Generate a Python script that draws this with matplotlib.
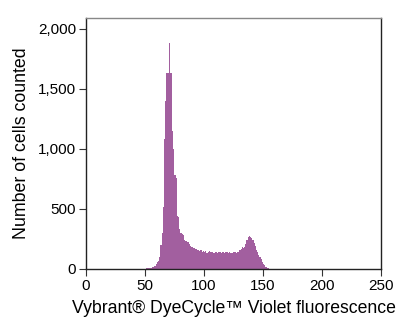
import matplotlib
matplotlib.use("Agg")
import matplotlib.pyplot as plt
import numpy as np

plt.rcParams['font.family'] = ['Liberation Sans', 'DejaVu Sans']

# Fluorescence channel (left bin edges, width 1) and cell counts per channel
bin_start = list(range(50, 156))
counts = [
    3, 5, 6, 8, 10, 12, 15, 20, 28, 40,            # 50-59
    55, 65, 100, 200, 300, 520, 1080, 1400, 1630, 1630,  # 60-69
    1880, 1630, 1630, 1150, 1000, 780, 760, 440, 430, 330,  # 70-79
    300, 290, 285, 240, 235, 230, 225, 210, 195, 185,  # 80-89
    180, 175, 168, 165, 160, 158, 150, 155, 145, 150,  # 90-99
    140, 148, 135, 142, 150, 140, 138, 145, 132, 140,  # 100-109
    145, 135, 140, 142, 130, 140, 145, 135, 138, 140,  # 110-119
    132, 140, 135, 130, 135, 140, 138, 135, 140, 145,  # 120-129
    155, 170, 180, 175, 185, 210, 240, 265, 275, 270,  # 130-139
    255, 240, 215, 190, 160, 140, 120, 100, 80, 60,    # 140-149
    45, 30, 20, 12, 6, 3,                              # 150-155
]

x_ticks = [0, 50, 100, 150, 200, 250]
y_ticks = [0, 500, 1000, 1500, 2000]
y_tick_labels = ['0', '500', '1,000', '1,500', '2,000']

fig = plt.figure(figsize=(4.03, 3.22), dpi=100)
ax = fig.add_axes([0.2134, 0.1646, 0.7320, 0.7794])

# Histogram as one filled step polygon
edges = np.r_[bin_start, bin_start[-1] + 1]
heights = np.r_[counts, counts[-1]]
ax.fill_between(edges, heights, step='post', facecolor='#a25f9f',
                edgecolor='none', linewidth=0)

ax.set_xlim(0, 250)
ax.set_ylim(0, 2090)
ax.set_xticks(x_ticks)
ax.set_xticklabels([str(t) for t in x_ticks])
ax.set_yticks(y_ticks)
ax.set_yticklabels(y_tick_labels)

ax.tick_params(direction='out', length=5, width=0.8, colors='#333333',
               labelsize=11, labelcolor='black', pad=2)

for side in ['left', 'bottom', 'right']:
    ax.spines[side].set_color('#222222')
    ax.spines[side].set_linewidth(1.0)
ax.spines['top'].set_color('#888888')
ax.spines['top'].set_linewidth(1.0)

ax.set_xlabel('Vybrant® DyeCycle™ Violet fluorescence', fontsize=12.7, labelpad=5)
ax.set_ylabel('Number of cells counted', fontsize=12.8, labelpad=6)

fig.savefig('out.png', dpi=100)
